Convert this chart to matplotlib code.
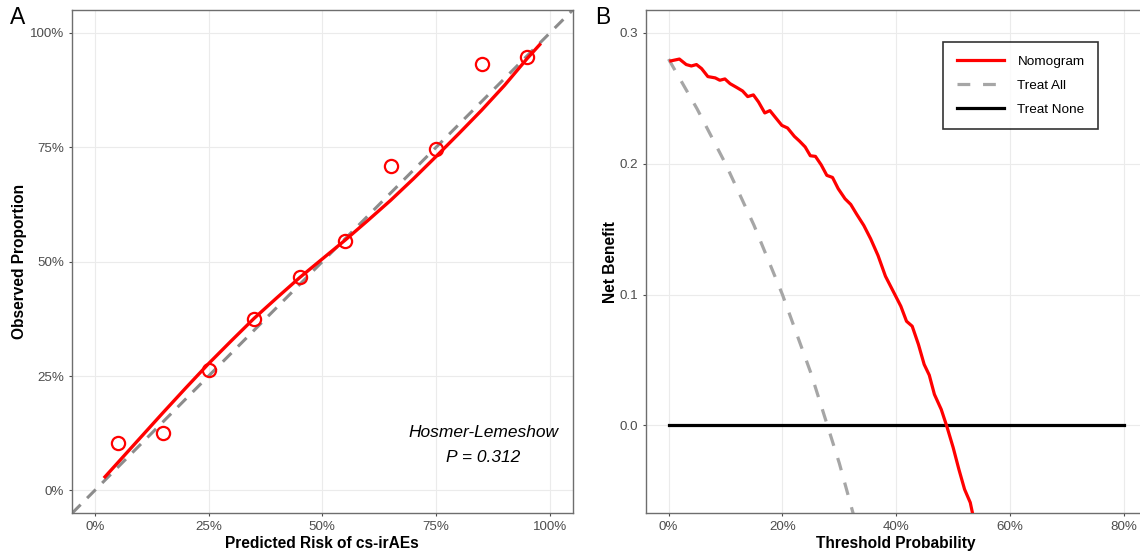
import matplotlib
matplotlib.use("Agg")
import matplotlib.pyplot as plt

plt.rcParams['font.family'] = ['Liberation Sans', 'DejaVu Sans']

# ---------------- Data: Panel A (calibration) ----------------
cal_pred = [0.05, 0.15, 0.25, 0.35, 0.45, 0.55, 0.65, 0.75, 0.85, 0.95]
cal_obs = [0.104, 0.126, 0.263, 0.375, 0.466, 0.546, 0.710, 0.746, 0.931, 0.948]

curve_x = [0.02, 0.05, 0.10, 0.15, 0.20, 0.25, 0.30, 0.35, 0.40, 0.45, 0.50,
           0.55, 0.60, 0.65, 0.70, 0.75, 0.80, 0.85, 0.90, 0.95, 0.98]
curve_y = [0.027, 0.060, 0.115, 0.170, 0.224, 0.277, 0.327, 0.376, 0.421, 0.465, 0.506,
           0.547, 0.590, 0.634, 0.681, 0.730, 0.780, 0.831, 0.885, 0.944, 0.977]

a_ticks = [0, 0.25, 0.5, 0.75, 1.0]
a_ticklabels = ["0%", "25%", "50%", "75%", "100%"]

# ---------------- Data: Panel B (decision curve) ----------------
nomo_t = [0.004, 0.019, 0.031, 0.040, 0.049, 0.058, 0.069, 0.082, 0.090, 0.099,
          0.108, 0.120, 0.130, 0.139, 0.149, 0.158, 0.169, 0.178, 0.188, 0.199,
          0.209, 0.221, 0.230, 0.240, 0.249, 0.258, 0.268, 0.278, 0.288, 0.298,
          0.310, 0.320, 0.330, 0.343, 0.355, 0.368, 0.381, 0.396, 0.408, 0.418,
          0.428, 0.439, 0.449, 0.458, 0.467, 0.479, 0.489, 0.500, 0.510, 0.520,
          0.530, 0.545]
nomo_nb = [0.2786, 0.2800, 0.2758, 0.2747, 0.2758, 0.2727, 0.2666, 0.2656, 0.2638, 0.2648,
           0.2612, 0.2582, 0.2556, 0.2513, 0.2526, 0.2472, 0.2388, 0.2406, 0.2352, 0.2293,
           0.2273, 0.2209, 0.2173, 0.2128, 0.2061, 0.2056, 0.1992, 0.1911, 0.1895, 0.1809,
           0.1732, 0.1689, 0.1617, 0.1528, 0.1426, 0.1298, 0.1140, 0.1013, 0.0911, 0.0796,
           0.0758, 0.0618, 0.0466, 0.0384, 0.0237, 0.0122, -0.0010, -0.0170, -0.0336, -0.0489,
           -0.0590, -0.0900]

all_t = [0.0, 0.05, 0.10, 0.15, 0.20, 0.25, 0.30, 0.35]
all_nb = [0.280, 0.242, 0.200, 0.153, 0.100, 0.040, -0.029, -0.108]

none_t = [0.0, 0.8]
none_nb = [0.0, 0.0]

b_xticks = [0, 0.2, 0.4, 0.6, 0.8]
b_xticklabels = ["0%", "20%", "40%", "60%", "80%"]
b_yticks = [0.0, 0.1, 0.2, 0.3]
b_yticklabels = ["0.0", "0.1", "0.2", "0.3"]

# ---------------- Figure ----------------
fig = plt.figure(figsize=(11.4, 5.52), dpi=100)
fig.patch.set_facecolor("white")

axA = fig.add_axes([0.06316, 0.0701, 0.4392, 0.9118])
axB = fig.add_axes([0.5664, 0.0701, 0.4394, 0.9118])

def style(ax):
    ax.set_facecolor("white")
    for s in ax.spines.values():
        s.set_color("#6E6E6E")
        s.set_linewidth(1.0)
    ax.grid(True, color="#EBEBEB", linewidth=0.8)
    ax.set_axisbelow(True)
    ax.tick_params(axis="both", which="major", length=2.5, width=0.8,
                   color="#4D4D4D", labelcolor="#4D4D4D", labelsize=9.6, pad=3)

# Panel A
style(axA)
axA.axline((0, 0), (1, 1), color="#8C8C8C", lw=2.2, ls=(0, (4, 3)), zorder=2)
axA.plot(curve_x, curve_y, color="#FF0000", lw=2.4, zorder=3, solid_capstyle="butt")
axA.plot(cal_pred, cal_obs, ls="none", marker="o", markersize=9.5,
         markerfacecolor="none", markeredgecolor="#FF0000", markeredgewidth=1.6, zorder=4)
axA.set_xlim(-0.05, 1.05)
axA.set_ylim(-0.05, 1.05)
axA.set_xticks(a_ticks)
axA.set_xticklabels(a_ticklabels)
axA.set_yticks(a_ticks)
axA.set_yticklabels(a_ticklabels)
axA.set_xlabel("Predicted Risk of cs-irAEs", fontsize=11.2, fontweight="bold", labelpad=2)
axA.set_ylabel("Observed Proportion", fontsize=11.2, fontweight="bold", labelpad=2)
axA.text(0.854, 0.126, "Hosmer-Lemeshow", fontsize=12.5, style="italic",
         ha="center", va="center", color="black")
axA.text(0.854, 0.071, "P = 0.312", fontsize=12.5, style="italic",
         ha="center", va="center", color="black")

# Panel B
style(axB)
axB.plot(none_t, none_nb, color="black", lw=2.3, zorder=3, label="Treat None")
axB.plot(all_t, all_nb, color="#A6A6A6", lw=2.3, ls=(0, (4, 4)), zorder=2, label="Treat All")
axB.plot(nomo_t, nomo_nb, color="#FF0000", lw=2.3, zorder=4, label="Nomogram")
axB.set_xlim(-0.0402, 0.8398)
axB.set_ylim(-0.0672, 0.3175)
axB.set_xticks(b_xticks)
axB.set_xticklabels(b_xticklabels)
axB.set_yticks(b_yticks)
axB.set_yticklabels(b_yticklabels)
axB.set_xlabel("Threshold Probability", fontsize=11.2, fontweight="bold", labelpad=2)
axB.set_ylabel("Net Benefit", fontsize=11.2, fontweight="bold", labelpad=1)

handles, labels = axB.get_legend_handles_labels()
order = [2, 1, 0]
leg = axB.legend([handles[i] for i in order], [labels[i] for i in order],
                 loc="upper right", bbox_to_anchor=(0.903, 0.9358),
                 fontsize=9.7, frameon=True, fancybox=False, handlelength=3.5,
                 handletextpad=1.0, labelspacing=0.85, borderpad=1.0, borderaxespad=0)
leg.get_frame().set_edgecolor("black")
leg.get_frame().set_linewidth(1.2)

fig.text(10 / 1140, 1 - 18 / 552, "A", fontsize=16.5, ha="left", va="center")
fig.text(595 / 1140, 1 - 18 / 552, "B", fontsize=16.5, ha="left", va="center")

fig.savefig("out.png", dpi=100, facecolor="white")
